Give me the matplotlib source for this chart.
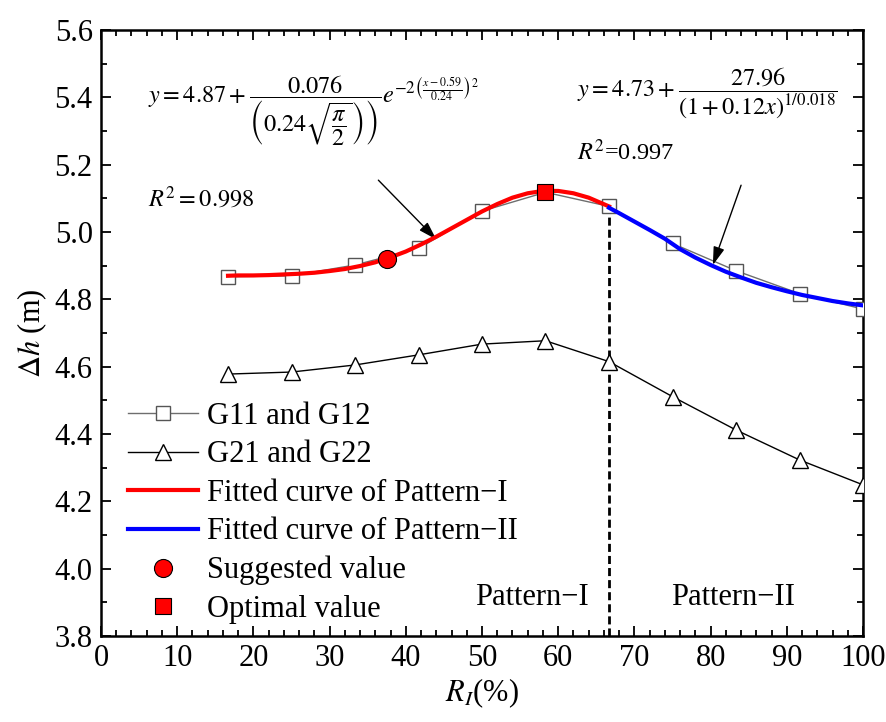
import matplotlib
matplotlib.use("Agg")
import matplotlib.pyplot as plt
from matplotlib.ticker import MultipleLocator, FormatStrFormatter

plt.rcParams["font.family"] = ["Liberation Serif", "DejaVu Serif"]
plt.rcParams["mathtext.fontset"] = "stix"

# Measured points, R_I (%) vs. delta h (m)
ri = [16.67, 25.0, 33.33, 41.67, 50.0, 58.33, 66.67, 75.0, 83.33, 91.67, 100.0]
g11 = [4.867, 4.870, 4.902, 4.951, 5.062, 5.118, 5.076, 4.966, 4.885, 4.817, 4.771]
g21 = [4.578, 4.584, 4.605, 4.635, 4.667, 4.677, 4.615, 4.511, 4.412, 4.323, 4.249]

# Fitted curves
fit1_x = [16.67, 18, 20, 22, 24, 26, 28, 30, 32, 34, 36, 38, 40, 42, 44, 46,
          48, 50, 52, 54, 56, 58, 60, 62, 64, 66.67]
fit1_y = [4.870, 4.871, 4.871, 4.872, 4.874, 4.876, 4.879, 4.884, 4.890,
          4.899, 4.910, 4.925, 4.942, 4.963, 4.986, 5.011, 5.036, 5.061,
          5.083, 5.102, 5.115, 5.122, 5.122, 5.115, 5.102, 5.076]
fit2_x = [66.67, 68, 70, 72, 74, 76, 78, 80, 82, 84, 86, 88, 90, 92, 94, 96,
          98, 100]
fit2_y = [5.072, 5.056, 5.031, 5.006, 4.980, 4.949, 4.924, 4.902, 4.882,
          4.865, 4.849, 4.836, 4.824, 4.813, 4.804, 4.795, 4.788, 4.782]

suggested = (37.5, 4.921)
optimal = (58.33, 5.118)
split_x = 66.67

eq1 = (r"$y=4.87+\dfrac{0.076}{\left(\left.0.24\sqrt{\dfrac{\pi}{2}}\right)\right)}"
       r"e^{-2\left(\frac{x-0.59}{0.24}\right)^{2}}$")
eq2 = r"$y=4.73+\dfrac{27.96}{\left(1+0.12x\right)^{1/0.018}}$"

fig = plt.figure(figsize=(8.86, 7.22), dpi=100)
ax = fig.add_axes([101 / 886, 86 / 722, 762 / 886, 606 / 722])

ax.plot(ri, g11, color="#6e6e6e", lw=1.0, marker="s", ms=10,
        mfc="white", mec="#555555", mew=1.0, label="G11 and G12", zorder=3)
ax.plot(ri, g21, color="black", lw=1.0, marker="^", ms=12,
        mfc="white", mec="black", mew=1.0, label="G21 and G22", zorder=3)
ax.plot(fit1_x, fit1_y, color="#ff0000", lw=3, label="Fitted curve of Pattern\u2212I",
        zorder=4)
ax.plot(fit2_x, fit2_y, color="#0000ff", lw=3, label="Fitted curve of Pattern\u2212II",
        zorder=4)
ax.plot(*suggested, ls="none", marker="o", ms=13, mfc="#ff0000", mec="black",
        mew=0.8, label="Suggested value", zorder=5)
ax.plot(*optimal, ls="none", marker="s", ms=11, mfc="#ff0000", mec="black",
        mew=0.8, label="Optimal value", zorder=5)

ax.vlines(split_x, 3.8, g11[6], colors="black", lw=2.0,
          linestyles=(0, (2.9, 1.45)), zorder=2)

ax.text(6.2, 5.358, eq1, ha="left", va="center", fontsize=17.5)
ax.text(6.2, 5.10, r"$R^2=0.998$", ha="left", va="center", fontsize=17.5)
ax.text(62.5, 5.41, eq2, ha="left", va="center", fontsize=17.5)
ax.text(62.5, 5.237, r"$R^2$=0.997", ha="left", va="center", fontsize=17.5)

arrow = dict(arrowstyle="-|>,head_length=0.55,head_width=0.17", color="black",
             lw=1.0, shrinkA=0, shrinkB=0, mutation_scale=20)
ax.annotate("", xy=(44.0, 4.978), xytext=(36.4, 5.154), arrowprops=arrow)
ax.annotate("", xy=(80.3, 4.902), xytext=(84.0, 5.139), arrowprops=arrow)

ax.text(56.6, 3.892, "Pattern\u2212I", ha="center", va="baseline", fontsize=22)
ax.text(82.9, 3.892, "Pattern\u2212II", ha="center", va="baseline", fontsize=22)

ax.set_xlim(0, 100)
ax.set_ylim(3.8, 5.6)
ax.xaxis.set_major_locator(MultipleLocator(10))
ax.xaxis.set_minor_locator(MultipleLocator(2))
ax.yaxis.set_major_locator(MultipleLocator(0.2))
ax.yaxis.set_minor_locator(MultipleLocator(0.1))
ax.yaxis.set_major_formatter(FormatStrFormatter("%.1f"))
ax.tick_params(which="both", direction="in", top=True, right=True,
               labelsize=22, width=1.3)
ax.tick_params(which="major", length=7, pad=6)
ax.tick_params(which="minor", length=4)
for sp in ax.spines.values():
    sp.set_linewidth(1.8)

ax.set_xlabel(r"$R_I$(%)", fontsize=22, labelpad=2)
ax.set_ylabel(r"$\mathit{\Delta h}$ (m)", fontsize=22, labelpad=4)

ax.legend(loc="lower left", bbox_to_anchor=(0.035, 0.02), frameon=False,
          fontsize=22, handlelength=2.3, handletextpad=0.3, labelspacing=0.31,
          borderpad=0, borderaxespad=0)

fig.savefig("out.png", dpi=100)
